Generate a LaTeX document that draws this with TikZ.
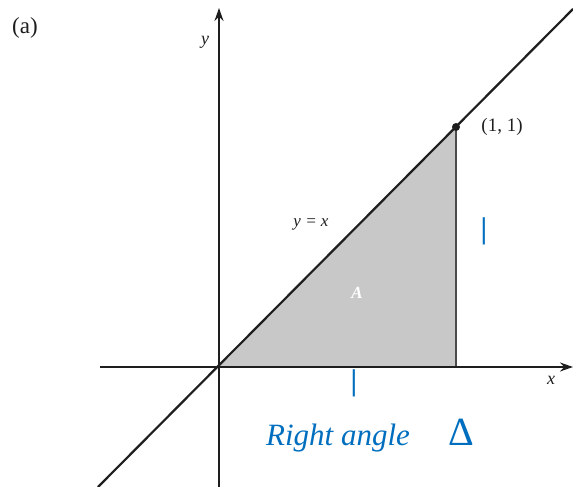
\documentclass[tikz,border=0pt]{standalone}
\usepackage{fontspec}
\setmainfont{Liberation Serif}
\usetikzlibrary{arrows.meta}
\definecolor{ink}{RGB}{30,30,30}
\definecolor{greyfill}{RGB}{200,200,200}
\definecolor{pen}{RGB}{0,110,190}
\tikzset{
  axis/.style={draw=ink, line width=1.8pt, -{Stealth[length=13pt,width=9pt]}},
  lbl/.style={font=\fontsize{18}{18}\selectfont\itshape, text=ink, inner sep=0pt},
  hand/.style={text=pen, font=\fontsize{28}{28}\selectfont, inner sep=0pt}
}
\begin{document}
\begin{tikzpicture}[x=1pt,y=-1pt]
\useasboundingbox (0,0) rectangle (573,487);
\coordinate (O) at (219,367);
\coordinate (P) at (456,127);
\coordinate (Q) at (456,367);
\fill[greyfill] (O) -- (P) -- (Q) -- cycle;
\draw[ink!80, line width=1.4pt] (P) -- (Q);
\coordinate (xs) at (100,367);
\coordinate (xe) at (573,367);
\coordinate (ys) at (219,487);
\coordinate (ye) at (219,8);
\draw[axis] (xs) -- (xe);
\draw[axis] (ys) -- (ye);
\coordinate (ds) at (98,487);
\coordinate (de) at (573,9);
\draw[ink, line width=2.2pt] (ds) -- (de);
\fill[ink] (P) circle (4pt);
\node[font=\fontsize{23}{23}\selectfont, text=ink] (a) at (25,28) {(a)};
\node[lbl] (ylab) at (205,42) {y};
\node[lbl] (xlab) at (551,380) {x};
\node[font=\fontsize{19}{19}\selectfont, text=ink, inner sep=0pt] (pt) at (502,127) {(1, 1)};
\node[lbl, font=\fontsize{17}{17}\selectfont\itshape] (yx) at (311,224) {y = x};
\node[lbl, text=white, font=\fontsize{17}{17}\selectfont\bfseries\itshape] (A) at (357,293) {A};
\node[hand, font=\fontsize{30}{30}\selectfont\bfseries] (one1) at (484,231) {|};
\node[hand, font=\fontsize{30}{30}\selectfont\bfseries] (one2) at (354,383) {|};
\node[hand, font=\fontsize{31}{31}\selectfont\itshape] (ra) at (338,438) {Right angle};
\node[hand, font=\fontsize{40}{40}\selectfont] (tri) at (461,432) {Δ};
\end{tikzpicture}
\end{document}
